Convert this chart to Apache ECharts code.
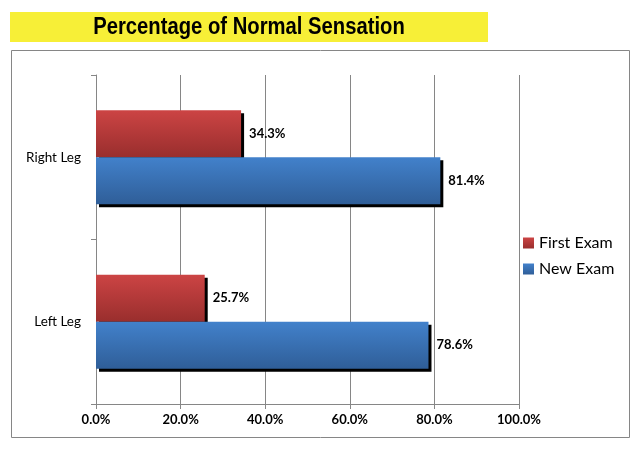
<!DOCTYPE html>
<html>
<head>
<meta charset="utf-8">
<script src="https://cdn.jsdelivr.net/npm/echarts@6/dist/echarts.min.js"></script>
<style>
html,body{margin:0;padding:0;background:#fff;}
#c{width:642px;height:449px;}
</style>
</head>
<body>
<div id="c"></div>
<script>
const titleText = 'Percentage of Normal Sensation';
const categories = ['Left Leg', 'Right Leg'];
const seriesNames = ['First Exam', 'New Exam'];
const firstExam = [25.7, 34.3];
const newExam = [78.6, 81.4];
const xTicks = [0, 20, 40, 60, 80, 100];

const chart = echarts.init(document.getElementById('c'));
const redGrad = new echarts.graphic.LinearGradient(0, 0, 0, 1, [
  {offset: 0, color: '#cc4444'}, {offset: 1, color: '#992e2d'}
]);
const blueGrad = new echarts.graphic.LinearGradient(0, 0, 0, 1, [
  {offset: 0, color: '#4281cb'}, {offset: 1, color: '#2f5e98'}
]);
const font = 'Lato, "Liberation Sans", sans-serif';
const labelCfg = {
  show: true, position: 'right', distance: 8, color: '#000', fontSize: 13,
  fontFamily: font, fontWeight: 'bold',
  formatter: p => p.value.toFixed(1) + '%'
};
chart.setOption({
  animation: false,
  backgroundColor: '#fff',
  graphic: [
    {type: 'rect', shape: {x: 10, y: 12, width: 478, height: 30}, style: {fill: '#f7ef37'}, z: -10},
    {type: 'rect', shape: {x: 11.5, y: 50.5, width: 618, height: 387}, style: {fill: 'none', stroke: '#868686', lineWidth: 1}, z: -10},
    {type: 'text', x: 249, y: 28, scaleX: 0.88, z: 10,
      style: {text: titleText, textAlign: 'center', textVerticalAlign: 'middle', fill: '#000',
        font: 'bold 23px "Liberation Sans", Arial, sans-serif'}}
  ],
  legend: {
    orient: 'vertical', left: 518, top: 230,
    data: seriesNames,
    itemWidth: 11, itemHeight: 11, itemGap: 10,
    icon: 'rect',
    textStyle: {fontSize: 16, fontFamily: font, color: '#000'}
  },
  grid: {left: 96, right: 123, top: 75, bottom: 45},
  xAxis: {
    type: 'value', min: xTicks[0], max: xTicks[xTicks.length - 1], interval: 20,
    axisLine: {show: true, lineStyle: {color: '#868686'}},
    axisTick: {show: true, length: 5, lineStyle: {color: '#868686'}},
    splitLine: {show: true, lineStyle: {color: '#868686'}},
    axisLabel: {formatter: v => v.toFixed(1) + '%', color: '#000', fontSize: 13, fontFamily: font, fontWeight: 'bold', margin: 9}
  },
  yAxis: {
    type: 'category', data: categories,
    axisLine: {show: true, lineStyle: {color: '#868686'}},
    axisTick: {show: true, length: 5, lineStyle: {color: '#868686'}},
    axisLabel: {color: '#000', fontSize: 13.5, fontFamily: font, margin: 15}
  },
  series: [
    {
      name: 'First Exam', type: 'bar', data: firstExam, z: 2,
      barWidth: 47, barGap: '0%',
      itemStyle: {color: redGrad, shadowColor: '#000', shadowOffsetX: 3, shadowOffsetY: 3, shadowBlur: 0},
      label: labelCfg
    },
    {
      name: 'New Exam', type: 'bar', data: newExam, z: 3,
      barWidth: 47, barGap: '0%',
      itemStyle: {color: blueGrad, shadowColor: '#000', shadowOffsetX: 3, shadowOffsetY: 3, shadowBlur: 0},
      label: labelCfg
    }
  ]
});
</script>
</body>
</html>
